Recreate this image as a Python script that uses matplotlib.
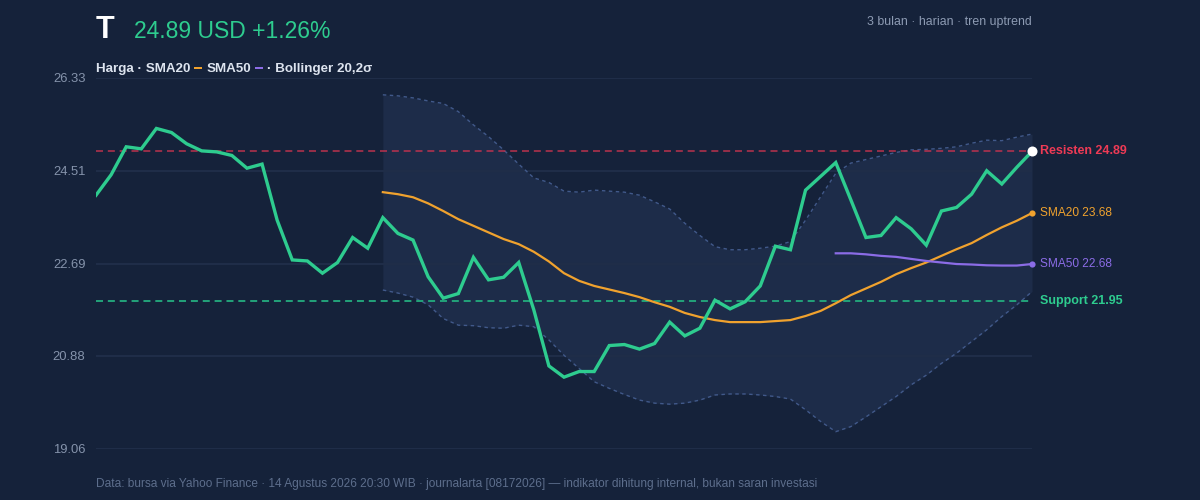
import matplotlib
matplotlib.use("Agg")
from matplotlib import pyplot as plt
from matplotlib.patches import Rectangle
import numpy as np

# price and indicator values (63 daily closes)
price = [24.03, 24.43, 24.98, 24.94, 25.34, 25.26, 25.04, 24.90, 24.88, 24.81,
         24.56, 24.64, 23.54, 22.76, 22.74, 22.50, 22.71, 23.20, 22.99, 23.59,
         23.28, 23.15, 22.43, 22.01, 22.10, 22.81, 22.37, 22.42, 22.71, 21.78,
         20.68, 20.46, 20.57, 20.57, 21.08, 21.10, 21.01, 21.12, 21.54, 21.27,
         21.42, 21.97, 21.80, 21.94, 22.25, 23.03, 22.96, 24.13, 24.40, 24.67,
         23.94, 23.20, 23.24, 23.59, 23.37, 23.05, 23.72, 23.79, 24.05, 24.51,
         24.25, 24.58, 24.89]

# SMA20 and Bollinger bands start at day 19
sma20 = [24.09, 24.05, 23.99, 23.87, 23.72, 23.56, 23.43, 23.30, 23.17, 23.07,
         22.92, 22.73, 22.50, 22.35, 22.25, 22.18, 22.11, 22.03, 21.93, 21.84,
         21.72, 21.64, 21.58, 21.54, 21.54, 21.54, 21.56, 21.58, 21.66, 21.76,
         21.91, 22.07, 22.20, 22.33, 22.48, 22.60, 22.71, 22.84, 22.97, 23.09,
         23.25, 23.40, 23.53, 23.68]
bb_upper = [26.00, 25.98, 25.94, 25.88, 25.83, 25.67, 25.41, 25.18, 24.92, 24.64,
            24.37, 24.28, 24.11, 24.09, 24.13, 24.11, 24.09, 24.03, 23.90, 23.76,
            23.48, 23.24, 23.02, 22.96, 22.96, 22.99, 23.03, 23.12, 23.54, 24.00,
            24.46, 24.66, 24.73, 24.80, 24.87, 24.92, 24.93, 24.95, 24.98, 25.05,
            25.11, 25.10, 25.17, 25.23]
bb_lower = [22.17, 22.11, 22.03, 21.88, 21.61, 21.48, 21.47, 21.43, 21.42, 21.48,
            21.45, 21.19, 20.89, 20.63, 20.37, 20.24, 20.12, 20.01, 19.95, 19.93,
            19.95, 20.01, 20.11, 20.13, 20.13, 20.11, 20.08, 20.03, 19.82, 19.59,
            19.39, 19.49, 19.68, 19.88, 20.08, 20.31, 20.50, 20.73, 20.93, 21.16,
            21.39, 21.65, 21.88, 22.14]
# SMA50 starts at day 49
sma50 = [22.89, 22.89, 22.87, 22.84, 22.82, 22.78, 22.74, 22.71, 22.68, 22.67,
         22.655, 22.65, 22.65, 22.68]

resistance = 24.89
support = 21.95
y_ticks = [19.06, 20.88, 22.69, 24.51, 26.33]

ticker = "T"
headline = "24.89 USD +1.26%"
subtitle = "3 bulan · harian · tren uptrend"
footer = ("Data: bursa via Yahoo Finance · 14 Agustus 2026 20:30 WIB · journalarta "
          "[08172026] — indikator dihitung internal, bukan saran investasi")

BG = "#15223a"
GREEN = "#2ecc8f"
ORANGE = "#f0a22e"
PURPLE = "#8b6ce6"
RED = "#ee3a55"
LEGEND_TXT = "#dde4ef"

plt.rcParams["font.family"] = ["Liberation Sans", "DejaVu Sans"]

fig = plt.figure(figsize=(12, 5), dpi=100, facecolor=BG)
ax = fig.add_axes([0.08, 0.103, 0.78, 0.741])
ax.set_facecolor(BG)

x = np.arange(len(price))
x20 = x[19:]
x50 = x[49:]

ax.fill_between(x20, bb_lower, bb_upper, color="#1d2c49", lw=0, zorder=0.3)
ax.plot(x20, bb_upper, color="#41598a", lw=1, dashes=(2.5, 2.5), zorder=1)
ax.plot(x20, bb_lower, color="#41598a", lw=1, dashes=(2.5, 2.5), zorder=1)

ax.axhline(resistance, color="#c8334f", lw=1.2, dashes=(4.2, 2.9), alpha=0.85, zorder=1.5)
ax.axhline(support, color="#23a37a", lw=1.4, dashes=(3.6, 2.5), zorder=1.5)

ax.plot(x20, sma20, color=ORANGE, lw=1.6, zorder=2)
ax.plot(x50, sma50, color=PURPLE, lw=1.6, zorder=2)
ax.plot(x, price, color=GREEN, lw=2.4, zorder=3, solid_joinstyle="miter")

last = len(price) - 1
ax.scatter([last], [price[-1]], s=52, color="white", lw=0, zorder=5, clip_on=False)
ax.scatter([last], [sma20[-1]], s=20, color=ORANGE, lw=0, zorder=5, clip_on=False)
ax.scatter([last], [sma50[-1]], s=20, color=PURPLE, lw=0, zorder=5, clip_on=False)

labels = [(resistance, "Resisten %.2f" % resistance, RED, "bold", 9),
          (sma20[-1], "SMA20 %.2f" % sma20[-1], ORANGE, "normal", 8.6),
          (sma50[-1], "SMA50 %.2f" % sma50[-1], PURPLE, "normal", 8.6),
          (support, "Support %.2f" % support, GREEN, "bold", 9)]
for val, txt, col, wt, fs in labels:
    ax.annotate(txt, xy=(last, val), xytext=(6, 0), textcoords="offset points",
                va="center", ha="left", color=col, fontsize=fs, fontweight=wt,
                annotation_clip=False)

ax.set_xlim(0, last)
ax.set_ylim(y_ticks[0], y_ticks[-1])
ax.set_yticks(y_ticks)
ax.set_yticklabels(["%.2f" % t for t in y_ticks])
ax.set_xticks([])
ax.tick_params(axis="y", length=0, pad=7.5, labelcolor="#8593ab", labelsize=9.4)
ax.grid(axis="y", color="#1f2d48", lw=1.5)
ax.set_axisbelow(True)
for s in ax.spines.values():
    s.set_visible(False)

# header
fig.text(0.08, 1 - 38.5 / 500, ticker, color="white", fontsize=22,
         fontweight="bold", va="baseline")
fig.text(134 / 1200, 1 - 38.5 / 500, headline, color=GREEN, fontsize=16.5,
         va="baseline")
fig.text(0.86, 1 - 25 / 500, subtitle, color="#8d9bb3", fontsize=8.9,
         ha="right", va="baseline")
fig.text(0.08, 1 - 487 / 500, footer, color="#5d6e8c", fontsize=8.6,
         va="baseline")

# legend row: text pieces with small coloured swatches between them
renderer = fig.canvas.get_renderer()
pieces = ["Harga · SMA20", ORANGE, "SMA50", PURPLE, "· Bollinger 20,2σ"]
xpos = 96
for p in pieces:
    if p.startswith("#"):
        fig.patches.append(Rectangle((xpos / 1200, 1 - 69 / 500), 8 / 1200, 2.5 / 500,
                                     transform=fig.transFigure, color=p, lw=0))
        xpos += 8 + 4
    else:
        t = fig.text(xpos / 1200, 1 - 72 / 500, p, color=LEGEND_TXT, fontsize=9.6,
                     fontweight="bold", va="baseline")
        xpos += t.get_window_extent(renderer).width + 4

fig.savefig("out.png", dpi=100, facecolor=BG)
